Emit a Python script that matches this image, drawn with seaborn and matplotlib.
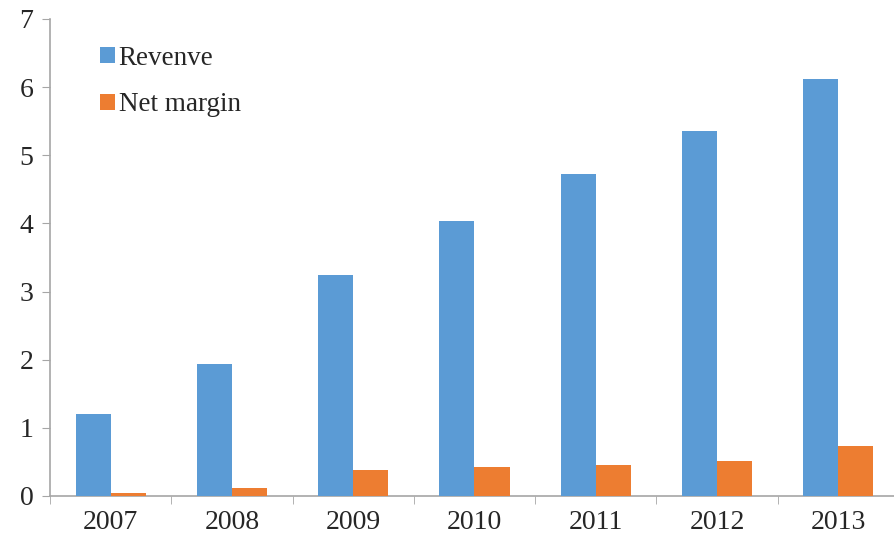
import pandas as pd
import seaborn as sns
import matplotlib.pyplot as plt
from matplotlib.ticker import FixedLocator

years = ['2007', '2008', '2009', '2010', '2011', '2012', '2013']
revenue = [1.20, 1.94, 3.24, 4.03, 4.73, 5.36, 6.12]
net_margin = [0.04, 0.11, 0.38, 0.43, 0.45, 0.52, 0.73]
series = ['Revenve', 'Net margin']
colors = ['#5B9BD5', '#ED7D31']

df = pd.DataFrame({'Year': years * 2,
                   'Value': revenue + net_margin,
                   'Series': [series[0]] * len(years) + [series[1]] * len(years)})

sns.set_style('white')
plt.rcParams['font.family'] = ['Liberation Serif', 'DejaVu Serif']

fig = plt.figure(figsize=(8.94, 5.4), dpi=100)
ax = fig.add_axes([0.056, 0.0815, 0.944, 0.8835])

sns.barplot(data=df, x='Year', y='Value', hue='Series', palette=colors,
            width=0.58, saturation=1, linewidth=0, ax=ax)

ax.set_xlim(-0.5, 6.46)
ax.set_ylim(0, 7)
ax.set_yticks(range(0, 8))
ax.set_xlabel('')
ax.set_ylabel('')

for s in ['top', 'right']:
    ax.spines[s].set_visible(False)
for s in ['left', 'bottom']:
    ax.spines[s].set_color('#A6A6A6')
    ax.spines[s].set_linewidth(1.2)
    ax.spines[s].set_zorder(0.5)

ax.tick_params(axis='y', length=6, color='#A6A6A6', labelsize=20, pad=6, left=True)
ax.tick_params(axis='x', which='major', length=0, labelsize=20, pad=10)
ax.xaxis.set_minor_locator(FixedLocator([i - 0.5 for i in range(len(years) + 1)]))
ax.tick_params(axis='x', which='minor', length=6, color='#A6A6A6', bottom=True)

leg = ax.legend(loc='upper left', bbox_to_anchor=(0.03, 0.995), frameon=False,
                fontsize=19.5, handlelength=0.55, handleheight=0.55,
                handletextpad=0.15, labelspacing=0.8)

fig.savefig('out.png', dpi=100)
